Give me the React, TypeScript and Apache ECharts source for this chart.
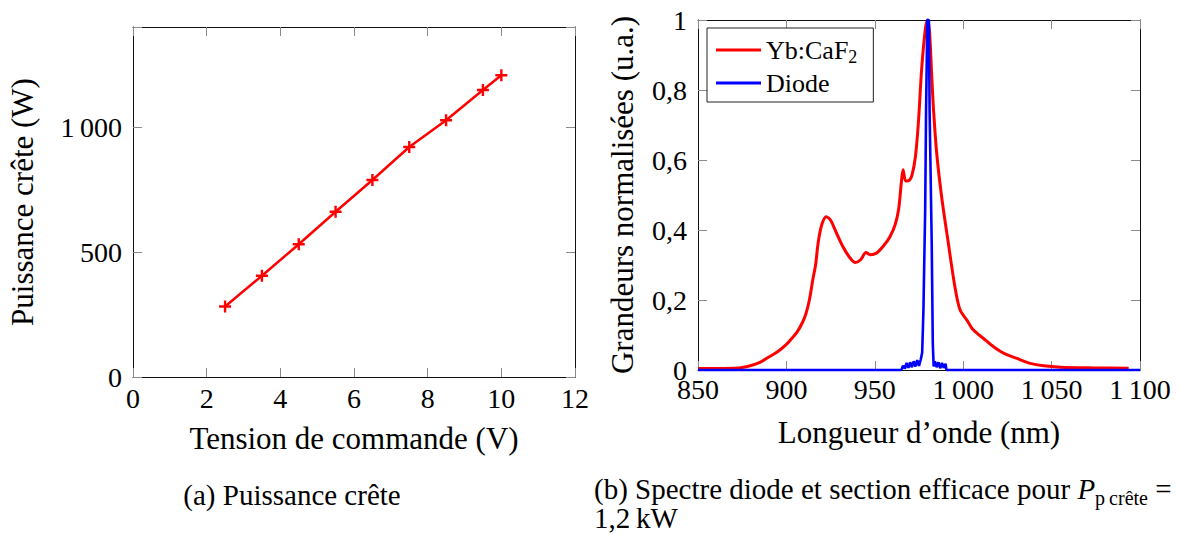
import React, { useEffect, useRef } from "react";
import * as echarts from "echarts";

// ---- Data (a): peak power vs control voltage ----
const voltage = [2.5, 3.5, 4.5, 5.5, 6.5, 7.5, 8.5, 9.5, 10];
const peakPower = [282, 405, 531, 661, 788, 920, 1027, 1148, 1207];

// ---- Data (b): normalised spectra ----
const ybWavelength = [
  850, 860, 870, 875, 880, 885, 890, 895, 900, 903, 906, 909, 911, 913, 915, 916.5,
  918, 920, 922.5, 925, 928, 932, 936, 939, 942, 945, 947.5, 951, 955, 958.5, 961.5,
  963.5, 965, 966, 967.5, 969.5, 971, 973, 974.7, 976.5, 978.5, 979.7, 980.9, 982.2,
  983.2, 985, 987.8, 991.6, 995.3, 998.2, 1002, 1005.8, 1011.5, 1017, 1022.8, 1030.4,
  1037.9, 1045.4, 1054.9, 1073.8, 1093.6,
];
const ybValue = [
  0.004, 0.004, 0.005, 0.007, 0.013, 0.022, 0.037, 0.052, 0.073, 0.09, 0.108, 0.135,
  0.16, 0.2, 0.26, 0.3, 0.365, 0.415, 0.438, 0.428, 0.395, 0.352, 0.32, 0.307, 0.315,
  0.336, 0.329, 0.334, 0.355, 0.38, 0.415, 0.46, 0.535, 0.572, 0.54, 0.542, 0.556, 0.61,
  0.71, 0.86, 0.97, 1.0, 0.97, 0.84, 0.745, 0.62, 0.495, 0.362, 0.238, 0.172, 0.143,
  0.114, 0.09, 0.067, 0.048, 0.033, 0.019, 0.012, 0.008, 0.006, 0.005,
];
const diodeWavelength = [
  850, 965, 966, 967, 968, 969, 970, 971, 972, 973, 974, 975, 976, 976.8, 977.5, 978.5,
  979, 979.7, 980.6, 981, 982.2, 982.8, 983.3, 984, 985, 986, 987, 988, 989, 990, 990.5,
  1100,
];
const diodeValue = [
  0, 0, 0.012, 0.004, 0.02, 0.006, 0.022, 0.008, 0.025, 0.01, 0.028, 0.012, 0.03, 0.05,
  0.17, 0.46, 0.74, 1.0, 1.0, 0.74, 0.36, 0.076, 0.01, 0.025, 0.008, 0.022, 0.005, 0.02,
  0.006, 0.018, 0, 0,
];

// ---- Axes ----
const leftXRange = { min: 0, max: 12, interval: 2 };
const leftYRange = { min: 0, max: 1400, interval: 500 };
const rightXRange = { min: 850, max: 1100, interval: 50 };
const rightYRange = { min: 0, max: 1, interval: 0.2 };

const FONT = "Liberation Serif";
const RED = "#ff0000";
const BLUE = "#0000ff";

function thousands(v: number): string {
  const r = Math.round(v);
  if (Math.abs(r) >= 1000) {
    const k = Math.floor(r / 1000);
    const rest = String(r % 1000).padStart(3, "0");
    return k + "\u2009" + rest;
  }
  return String(r);
}

const frameLine = { show: true, onZero: false, lineStyle: { color: "#111", width: 1 } };
const tick = { show: true, inside: true, length: 9, lineStyle: { color: "#8a8a8a", width: 1 } };
const tickLabel = { fontFamily: FONT, fontSize: 28, color: "#000" };
const nameStyle = { fontFamily: FONT, fontSize: 31, color: "#000", verticalAlign: "middle", align: "center" };

export default function App() {
  const ref = useRef<HTMLDivElement>(null);

  useEffect(() => {
    if (!ref.current) return;
    const chart = echarts.init(ref.current, undefined, { renderer: "svg" });

    const plus = "path://M4,0H6V4H10V6H6V10H4V6H0V4H4Z";

    const option: any = {
      animation: false,
      backgroundColor: "#fff",
      grid: [
        { left: 133, top: 27, width: 442, height: 350 },
        { left: 698, top: 20, width: 442, height: 350 },
      ],
      xAxis: [
        {
          type: "value", gridIndex: 0, position: "bottom", ...leftXRange,
          axisLine: frameLine, axisTick: tick, splitLine: { show: false },
          axisLabel: { ...tickLabel, margin: 7, formatter: (v: number) => String(v) },
          name: "Tension de commande (V)", nameLocation: "middle", nameGap: 61,
          nameMoveOverlap: false, nameTextStyle: nameStyle,
        },
        {
          type: "value", gridIndex: 0, position: "top", ...leftXRange,
          axisLine: frameLine, axisTick: tick, splitLine: { show: false }, axisLabel: { show: false },
        },
        {
          type: "value", gridIndex: 1, position: "bottom", ...rightXRange,
          axisLine: frameLine, axisTick: tick, splitLine: { show: false },
          axisLabel: { ...tickLabel, margin: 5, formatter: (v: number) => thousands(v) },
          name: "Longueur d\u2019onde (nm)", nameLocation: "middle", nameGap: 62,
          nameMoveOverlap: false, nameTextStyle: nameStyle,
        },
        {
          type: "value", gridIndex: 1, position: "top", ...rightXRange,
          axisLine: frameLine, axisTick: tick, splitLine: { show: false }, axisLabel: { show: false },
        },
      ],
      yAxis: [
        {
          type: "value", gridIndex: 0, position: "left", ...leftYRange,
          axisLine: frameLine, axisTick: tick, splitLine: { show: false },
          axisLabel: {
            ...tickLabel, margin: 11,
            formatter: (v: number) => (Math.round(v) % 500 === 0 ? thousands(v) : ""),
          },
          name: "Puissance cr\u00eate (W)", nameLocation: "middle", nameGap: 111,
          nameMoveOverlap: false, nameTextStyle: nameStyle,
        },
        {
          type: "value", gridIndex: 0, position: "right", ...leftYRange,
          axisLine: frameLine, axisTick: tick, splitLine: { show: false }, axisLabel: { show: false },
        },
        {
          type: "value", gridIndex: 1, position: "left", ...rightYRange,
          axisLine: frameLine, axisTick: tick, splitLine: { show: false },
          axisLabel: {
            ...tickLabel, margin: 11,
            formatter: (v: number) => String(Math.round(v * 10) / 10).replace(".", ","),
          },
          name: "Grandeurs normalis\u00e9es (u.a.)", nameLocation: "middle", nameGap: 76,
          nameMoveOverlap: false, nameTextStyle: nameStyle,
        },
        {
          type: "value", gridIndex: 1, position: "right", ...rightYRange,
          axisLine: frameLine, axisTick: tick, splitLine: { show: false }, axisLabel: { show: false },
        },
      ],
      legend: {
        data: ["Yb:CaF2", "Diode"],
        orient: "vertical",
        left: 707,
        top: 28,
        padding: [6, 16, 5, 9],
        itemGap: 3,
        itemWidth: 45,
        itemHeight: 3,
        icon: "rect",
        backgroundColor: "#fff",
        borderColor: "#222",
        borderWidth: 1,
        borderRadius: 0,
        selectedMode: false,
        formatter: (name: string) => (name === "Yb:CaF2" ? "Yb:CaF{sub|2}" : name),
        textStyle: {
          fontFamily: FONT,
          fontSize: 26,
          color: "#000",
          lineHeight: 28,
          rich: {
            sub: { fontFamily: FONT, fontSize: 18, lineHeight: 32, verticalAlign: "bottom", color: "#000" },
          },
        },
      },
      series: [
        {
          name: "Puissance",
          type: "line",
          xAxisIndex: 0,
          yAxisIndex: 0,
          data: voltage.map((v, i) => [v, peakPower[i]]),
          symbol: plus,
          symbolSize: 12,
          showSymbol: true,
          lineStyle: { color: RED, width: 2.5 },
          itemStyle: { color: RED },
          clip: false,
        },
        {
          name: "Yb:CaF2",
          type: "line",
          xAxisIndex: 2,
          yAxisIndex: 2,
          data: ybWavelength.map((w, i) => [w, ybValue[i]]),
          symbol: "none",
          smooth: 0.3,
          lineStyle: { color: RED, width: 3 },
          itemStyle: { color: RED },
          clip: false,
          z: 3,
        },
        {
          name: "Diode",
          type: "line",
          xAxisIndex: 2,
          yAxisIndex: 2,
          data: diodeWavelength.map((w, i) => [w, diodeValue[i]]),
          symbol: "none",
          lineStyle: { color: BLUE, width: 2.6 },
          itemStyle: { color: BLUE },
          clip: false,
          z: 4,
        },
      ],
      graphic: [
        {
          type: "text",
          x: 292,
          y: 495,
          style: {
            text: "(a) Puissance cr\u00eate",
            fontFamily: FONT,
            fontSize: 29,
            fill: "#000",
            align: "center",
            verticalAlign: "middle",
          },
        },
        {
          type: "text",
          x: 594,
          y: 489,
          style: {
            text: "(b) Spectre diode et section efficace pour {i|P}{sub|p\u2009cr\u00eate} =",
            fontFamily: FONT,
            fontSize: 29,
            fill: "#000",
            align: "left",
            verticalAlign: "middle",
            rich: {
              i: { fontFamily: FONT, fontSize: 29, fontStyle: "italic", fill: "#000", lineHeight: 30 },
              sub: { fontFamily: FONT, fontSize: 20, fill: "#000", lineHeight: 38, verticalAlign: "bottom" },
            },
          },
        },
        {
          type: "text",
          x: 594,
          y: 518,
          style: {
            text: "1,2\u2009kW",
            fontFamily: FONT,
            fontSize: 29,
            fill: "#000",
            align: "left",
            verticalAlign: "middle",
          },
        },
      ],
    };

    chart.setOption(option);
    return () => chart.dispose();
  }, []);

  return (
    <div
      ref={ref}
      style={{ position: "fixed", left: 0, top: 0, width: 1180, height: 534, background: "#fff" }}
    />
  );
}
